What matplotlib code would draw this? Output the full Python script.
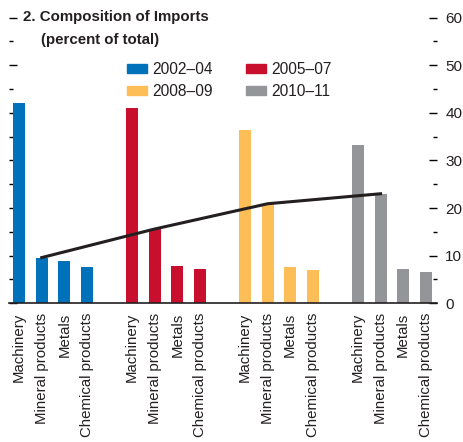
import matplotlib
matplotlib.use("Agg")
import matplotlib.pyplot as plt
from matplotlib.patches import Patch
from matplotlib.ticker import MultipleLocator
import numpy as np

plt.rcParams['font.family'] = ['Liberation Sans', 'DejaVu Sans']

categories = ['Machinery', 'Mineral products', 'Metals', 'Chemical products']
periods = ['2002\u201304', '2005\u201307', '2008\u201309', '2010\u201311']
colors = ['#0072BC', '#C8102E', '#FDBE57', '#939598']

vals_2002_04 = [42.1, 9.6, 8.9, 7.7]
vals_2005_07 = [40.9, 15.6, 7.9, 7.3]
vals_2008_09 = [36.4, 20.9, 7.7, 6.9]
vals_2010_11 = [33.3, 23.0, 7.1, 6.6]
series = [vals_2002_04, vals_2005_07, vals_2008_09, vals_2010_11]

fig = plt.figure(figsize=(4.64, 4.42), dpi=100)
ax = fig.add_axes([0.0194, 0.3138, 0.9224, 0.6466])

xticks = []
xlabels = []
mineral_x = []
mineral_y = []
for g, vals in enumerate(series):
    x = np.arange(4) + g * 5
    ax.bar(x, vals, width=0.53, color=colors[g], zorder=2)
    xticks.extend(x)
    xlabels.extend(categories)
    mineral_x.append(x[1])
    mineral_y.append(vals[1])

ax.plot(mineral_x, mineral_y, color='#231F20', lw=2.2, zorder=3)

ax.set_xlim(-0.45, 18.5)
ax.set_ylim(0, 60)
ax.set_xticks(xticks)
ax.set_xticklabels(xlabels, rotation=90, fontsize=10.8, color='#231F20')
ax.tick_params(axis='x', length=0, pad=7)

ax.yaxis.set_major_locator(MultipleLocator(10))
ax.yaxis.set_minor_locator(MultipleLocator(5))
ax.tick_params(axis='y', which='both', direction='in', left=True, right=True,
               labelleft=False, labelright=True, labelsize=11, pad=6,
               labelcolor='#231F20')
ax.tick_params(axis='y', which='major', length=6, width=1)
ax.tick_params(axis='y', which='minor', length=3, width=1)

for s in ['top', 'left', 'right']:
    ax.spines[s].set_visible(False)
ax.spines['bottom'].set_linewidth(1.2)
ax.spines['bottom'].set_color('#231F20')

fig.text(23 / 464, 1 - 17 / 442, '2. Composition of Imports', fontsize=10.8,
         fontweight='bold', va='center', ha='left', color='#231F20')
fig.text(41 / 464, 1 - 40 / 442, '(percent of total)', fontsize=10.8,
         fontweight='bold', va='center', ha='left', color='#231F20')

handles = [Patch(color=c, label=p) for c, p in zip(colors, periods)]
order = [0, 2, 1, 3]
leg = fig.legend([handles[i] for i in order], [periods[i] for i in order],
                 ncol=2, loc='upper left', bbox_to_anchor=(127 / 464, 1 - 62 / 442),
                 frameon=False, fontsize=11.2, handlelength=1.31, handleheight=0.59,
                 handletextpad=0.33, columnspacing=2.1, labelspacing=0.45,
                 borderaxespad=0, borderpad=0)
for t in leg.get_texts():
    t.set_color('#231F20')

fig.savefig('out.png', dpi=100)
